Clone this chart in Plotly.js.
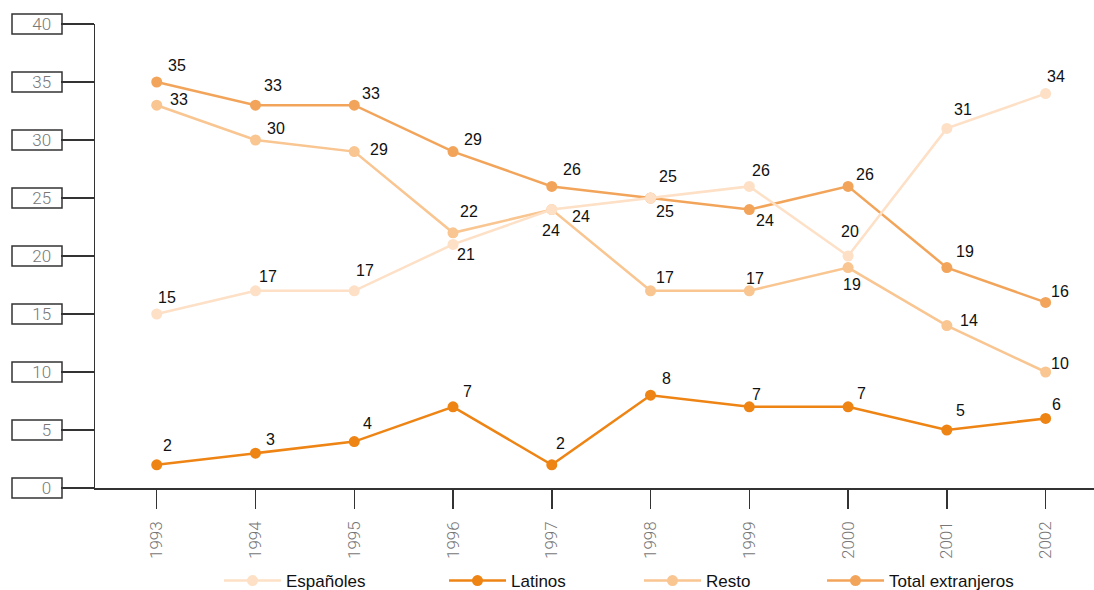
<!DOCTYPE html>
<html>
<head>
<meta charset="utf-8">
<script src="https://cdn.plot.ly/plotly-3.0.1.min.js"></script>
<style>
  html, body { margin: 0; padding: 0; background: #ffffff; }
  #chart { width: 1094px; height: 590px; }
</style>
</head>
<body>
<div id="chart"></div>
<script>
// Yearly shares (%) by group
const years = [1993, 1994, 1995, 1996, 1997, 1998, 1999, 2000, 2001, 2002];
const espanoles = [15, 17, 17, 21, 24, 25, 26, 20, 31, 34];
const latinos = [2, 3, 4, 7, 2, 8, 7, 7, 5, 6];
const resto = [33, 30, 29, 22, 24, 17, 17, 19, 14, 10];
const totalExtranjeros = [35, 33, 33, 29, 26, 25, 24, 26, 19, 16];
const yTickValues = [0, 5, 10, 15, 20, 25, 30, 35, 40];

// Pixel offsets [dx, dy] of each value label from its point (dy > 0 = downwards)
const offsEsp = [[10,-17],[13,-14],[11,-20],[13,10],[-1,21],[17,-22],[12,-16],[2,-25],[16,-19],[10,-17]];
const offsLat = [[11,-19],[15,-14],[13,-18],[14,-15],[9,-21],[16,-17],[7,-12],[13,-13],[14,-20],[11,-14]];
const offsRes = [[22,-6],[21,-12],[25,-2],[16,-21],[29,7],[14,-13],[6,-12],[4,17],[22,-5],[14,-9]];
const offsTot = [[20,-17],[18,-20],[17,-12],[20,-12],[20,-17],[14,13],[16,11],[17,-12],[18,-16],[14,-11]];

const series = [
  { name: 'Resto', y: resto, color: '#f9c590', offs: offsRes, legend: 'legend3' },
  { name: 'Total extranjeros', y: totalExtranjeros, color: '#f2a55a', offs: offsTot, legend: 'legend4' },
  { name: 'Latinos', y: latinos, color: '#ee8414', offs: offsLat, legend: 'legend2' },
  { name: 'Españoles', y: espanoles, color: '#fde0c6', offs: offsEsp, legend: 'legend' }
];

const traces = series.map(s => ({
  type: 'scatter',
  mode: 'lines+markers',
  name: s.name,
  x: years,
  y: s.y,
  legend: s.legend,
  line: { color: s.color, width: 2.5 },
  marker: { color: s.color, size: 11 },
  cliponaxis: false,
  hoverinfo: 'skip'
}));

const labelFont = { family: 'Liberation Sans, Arial, sans-serif', size: 16, color: '#111111' };
const annotations = [];
series.forEach(s => {
  s.y.forEach((v, i) => {
    annotations.push({
      x: years[i], y: v, xref: 'x', yref: 'y',
      text: String(v), showarrow: false,
      xshift: s.offs[i][0], yshift: -s.offs[i][1],
      font: labelFont
    });
  });
});

// Plot geometry (px)
const W = 1094, H = 590;
const M = { l: 95, r: 0, t: 24, b: 102 };
const plotW = W - M.l - M.r;
const plotH = H - M.t - M.b;
const yMax = 40;

// Boxes framing the y tick labels
const shapes = yTickValues.map(v => ({
  type: 'rect', xref: 'paper', yref: 'paper',
  x0: (12 - M.l) / plotW, x1: (62 - M.l) / plotW,
  y0: v / yMax - 10 / plotH, y1: v / yMax + 10 / plotH,
  line: { color: '#333333', width: 1.5 },
  fillcolor: 'rgba(0,0,0,0)',
  layer: 'above'
}));

const legendBase = {
  orientation: 'h', yanchor: 'middle', xanchor: 'left',
  y: -(581 - (M.t + plotH)) / plotH,
  font: { family: 'Liberation Sans, Arial, sans-serif', size: 17, color: '#111111' },
  bgcolor: 'rgba(0,0,0,0)', itemwidth: 57
};
const px2x = p => (p - M.l) / plotW;

const tickFont = { family: 'Roboto, Liberation Sans, sans-serif', size: 17, color: '#777777', weight: 300 };

const layout = {
  width: W, height: H,
  margin: Object.assign({ autoexpand: false }, M),
  paper_bgcolor: '#ffffff', plot_bgcolor: '#ffffff',
  hovermode: false,
  showlegend: true,
  xaxis: {
    range: [1992.375, 2002.49],
    tickmode: 'array', tickvals: years, ticktext: years.map(String),
    tickangle: -90,
    ticks: 'outside', ticklen: 19, tickwidth: 1.5, tickcolor: '#333333',
    ticklabelstandoff: 6,
    showline: true, linecolor: '#333333', linewidth: 1.5,
    showgrid: false, zeroline: false,
    tickfont: tickFont
  },
  yaxis: {
    range: [0, yMax],
    tickmode: 'array', tickvals: yTickValues, ticktext: yTickValues.map(String),
    ticks: 'outside', ticklen: 33, tickwidth: 1.5, tickcolor: '#333333',
    ticklabelstandoff: 6,
    showline: true, linecolor: '#333333', linewidth: 1.5,
    showgrid: false, zeroline: false,
    tickfont: tickFont
  },
  legend: Object.assign({}, legendBase, { x: px2x(219) }),
  legend2: Object.assign({}, legendBase, { x: px2x(444) }),
  legend3: Object.assign({}, legendBase, { x: px2x(639) }),
  legend4: Object.assign({}, legendBase, { x: px2x(822) }),
  annotations: annotations,
  shapes: shapes
};

Plotly.newPlot('chart', traces, layout, { displayModeBar: false, staticPlot: true });
</script>
</body>
</html>
